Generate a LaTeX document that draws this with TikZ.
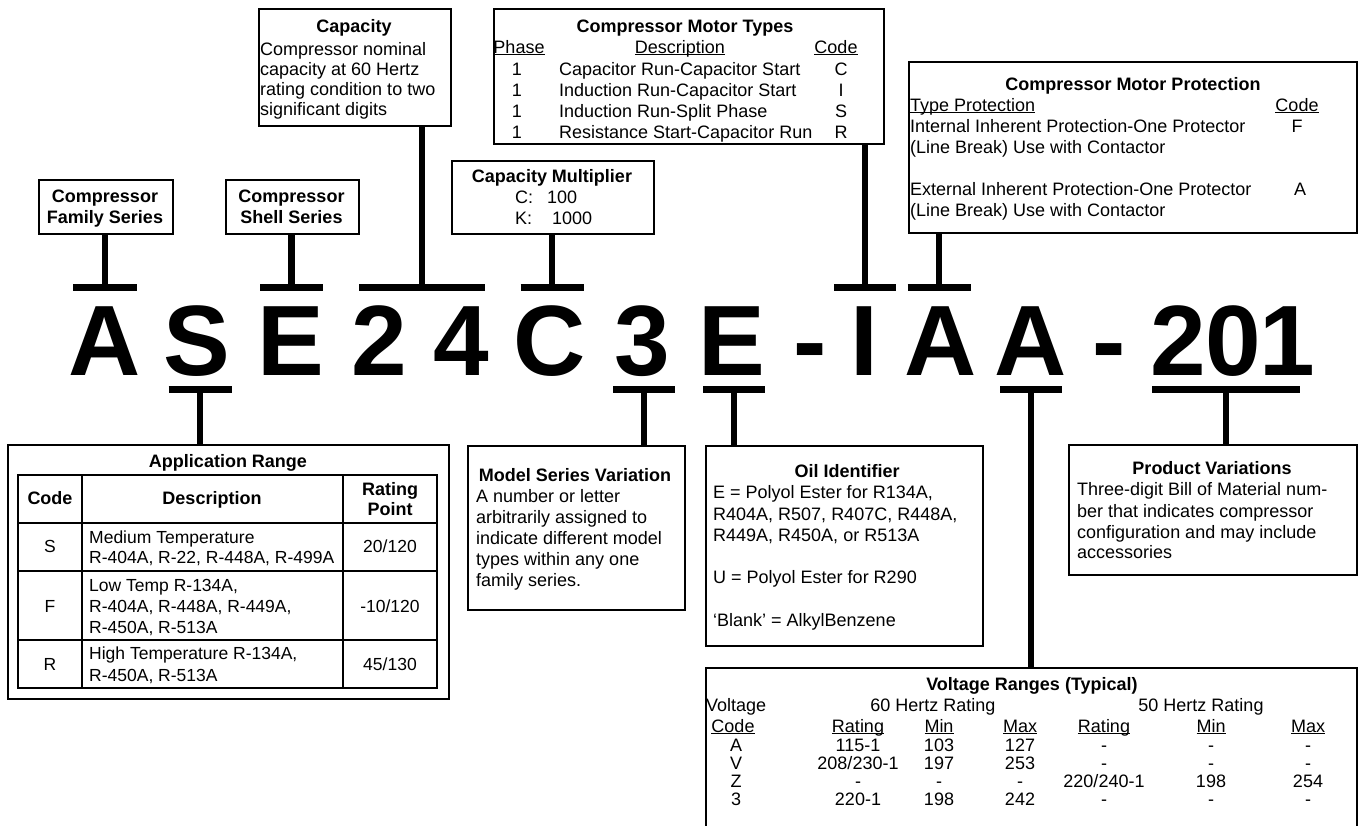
\documentclass[tikz,border=0pt]{standalone}
\usepackage{fontspec}
\setmainfont{Liberation Sans}
\newcommand\myul[1]{\setbox0\hbox{#1}\rlap{\rule[-2.4pt]{\wd0}{1.1pt}}\box0}
\begin{document}
\begin{tikzpicture}[x=1pt,y=-1pt,
  box/.style={draw, line width=2pt, inner sep=0pt, anchor=north west},
  txt/.style={inner sep=0pt, font=\fontsize{18}{21}\selectfont},
  stxt/.style={inner sep=0pt, font=\fontsize{17.5}{21}\selectfont},
  bt/.style={inner sep=0pt, font=\fontsize{18}{21}\selectfont\bfseries},
  big/.style={inner sep=0pt, anchor=base, font=\fontsize{100}{100}\selectfont\bfseries},
  stem/.style={line width=6.5pt},
  grid/.style={line width=2pt}]
\useasboundingbox (0,0) rectangle (1358,825);

% ---------- big code letters ----------
\node[big] (cA) at (105,375) {A};
\node[big] (cS) at (197,375) {S};
\node[big] (cE) at (291,375) {E};
\node[big] (c2) at (379,375) {2};
\node[big] (c4) at (461,375) {4};
\node[big] (cC) at (550,375) {C};
\node[big] (c3) at (642,375) {3};
\node[big] (cE2) at (732,375) {E};
\node[big] (ch1) at (810,375) {-};
\node[big] (cI) at (864,375) {I};
\node[big] (cA2) at (941,375) {A};
\node[big] (cA3) at (1031,375) {A};
\node[big] (ch2) at (1109,375) {-};
\node[big] (d2) at (1178,375) {2};
\node[big] (d0) at (1233,375) {0};
\node[big] (d1) at (1287,375) {1};

% ---------- boxes ----------
\node[box, minimum width=134, minimum height=54] (fam) at (38,179) {};
\node[box, minimum width=133, minimum height=54] (shell) at (225,179) {};
\node[box, minimum width=192, minimum height=117] (cap) at (258,8) {};
\node[box, minimum width=390, minimum height=135] (mt) at (493,8) {};
\node[box, minimum width=202, minimum height=73] (mult) at (451,160) {};
\node[box, minimum width=448, minimum height=171] (prot) at (908,61) {};
\node[box, minimum width=441, minimum height=254] (app) at (7,444) {};
\node[box, minimum width=217, minimum height=164] (msv) at (467,445) {};
\node[box, minimum width=277, minimum height=200] (oil) at (705,445) {};
\node[box, minimum width=288, minimum height=130] (pv) at (1068,444) {};
\node[box, minimum width=651, minimum height=175] (volt) at (705,667) {};

% ---------- bars and stems ----------
\coordinate (bFam) at (105,287.5);
\coordinate (bShell) at (291.5,287.5);
\coordinate (bCap) at (422,287.5);
\coordinate (bMult) at (552,287.5);
\coordinate (bMt) at (865,287.5);
\coordinate (bProt) at (939,287.5);
\coordinate (bApp) at (200,389.5);
\coordinate (bMsv) at (644,389.5);
\coordinate (bOil) at (734,389.5);
\coordinate (bVolt) at (1031,389.5);
\coordinate (bPv) at (1226,389.5);

\draw[stem] (bFam) -- (bFam |- fam.south);
\draw[stem] ([xshift=-32pt]bFam) -- ([xshift=32pt]bFam);
\draw[stem] (bShell) -- (bShell |- shell.south);
\draw[stem] ([xshift=-31.5pt]bShell) -- ([xshift=31.5pt]bShell);
\draw[stem] (bCap) -- (bCap |- cap.south);
\draw[stem] ([xshift=-63pt]bCap) -- ([xshift=63pt]bCap);
\draw[stem] (bMult) -- (bMult |- mult.south);
\draw[stem] ([xshift=-31.5pt]bMult) -- ([xshift=31.5pt]bMult);
\draw[stem] (bMt) -- (bMt |- mt.south);
\draw[stem] ([xshift=-31pt]bMt) -- ([xshift=31pt]bMt);
\draw[stem] (bProt) -- (bProt |- prot.south);
\draw[stem] ([xshift=-31.5pt]bProt) -- ([xshift=31.5pt]bProt);
\draw[stem] (bApp) -- (bApp |- app.north);
\draw[stem] ([xshift=-31.5pt]bApp) -- ([xshift=31.5pt]bApp);
\draw[stem] (bMsv) -- (bMsv |- msv.north);
\draw[stem] ([xshift=-31pt]bMsv) -- ([xshift=31pt]bMsv);
\draw[stem] (bOil) -- (bOil |- oil.north);
\draw[stem] ([xshift=-31pt]bOil) -- ([xshift=31pt]bOil);
\draw[stem] (bVolt) -- (bVolt |- volt.north);
\draw[stem] ([xshift=-31pt]bVolt) -- ([xshift=31pt]bVolt);
\draw[stem] (bPv) -- (bPv |- pv.north);
\draw[stem] ([xshift=-74pt]bPv) -- ([xshift=74pt]bPv);

% ---------- Family / Shell ----------
\node[bt, anchor=base] at (105,202) {Compressor};
\node[bt, anchor=base] at (105,223) {Family Series};
\node[bt, anchor=base] at (291.5,202) {Compressor};
\node[bt, anchor=base] at (291.5,223) {Shell Series};

% ---------- Capacity ----------
\node[bt, anchor=base] at (354,32.5) {Capacity};
\node[txt, anchor=base west] at (260,55) {Compressor nominal};
\node[txt, anchor=base west] at (260,75) {capacity at 60 Hertz};
\node[txt, anchor=base west] at (260,95) {rating condition to two};
\node[txt, anchor=base west] at (260,115) {significant digits};

% ---------- Motor types ----------
\node[bt, anchor=base] at (685,32) {Compressor Motor Types};
\node[txt, anchor=base] at (519,53) {\myul{Phase}};
\node[txt, anchor=base] at (680,53) {\myul{Description}};
\node[txt, anchor=base] at (836,53) {\myul{Code}};
\node[txt, anchor=base] at (517,75) {1};
\node[txt, anchor=base] at (517,96) {1};
\node[txt, anchor=base] at (517,117) {1};
\node[txt, anchor=base] at (517,138) {1};
\node[txt, anchor=base west] at (559,75) {Capacitor Run-Capacitor Start};
\node[txt, anchor=base west] at (559,96) {Induction Run-Capacitor Start};
\node[txt, anchor=base west] at (559,117) {Induction Run-Split Phase};
\node[txt, anchor=base west] at (559,138) {Resistance Start-Capacitor Run};
\node[txt, anchor=base] at (841,75) {C};
\node[txt, anchor=base] at (841,96) {I};
\node[txt, anchor=base] at (841,117) {S};
\node[txt, anchor=base] at (841,138) {R};

% ---------- Multiplier ----------
\node[bt, anchor=base] at (552,182) {Capacity Multiplier};
\node[txt, anchor=base west] at (515,203) {C:\hspace{14pt}100};
\node[txt, anchor=base west] at (515,224) {K:\hspace{20pt}1000};

% ---------- Protection ----------
\node[bt, anchor=base] at (1133,90) {Compressor Motor Protection};
\node[txt, anchor=base west] at (910,111) {\myul{Type Protection}};
\node[txt, anchor=base] at (1297,111) {\myul{Code}};
\node[txt, anchor=base west] at (910,132) {Internal Inherent Protection-One Protector};
\node[txt, anchor=base] at (1297,132) {F};
\node[txt, anchor=base west] at (910,153) {(Line Break) Use with Contactor};
\node[txt, anchor=base west] at (910,195) {External Inherent Protection-One Protector};
\node[txt, anchor=base] at (1300,195) {A};
\node[txt, anchor=base west] at (910,216) {(Line Break) Use with Contactor};

% ---------- Application range ----------
\node[bt, anchor=base] at (228,467) {Application Range};
\draw[grid] (18,475) rectangle (437,688);
\draw[grid] (82,475) -- (82,688);
\draw[grid] (343,475) -- (343,688);
\draw[grid] (18,523) -- (437,523);
\draw[grid] (18,571) -- (437,571);
\draw[grid] (18,640) -- (437,640);
\node[bt, anchor=base] at (50,504) {Code};
\node[bt, anchor=base] at (212,504) {Description};
\node[bt, anchor=base] at (390,495) {Rating};
\node[bt, anchor=base] at (390,515) {Point};
\node[stxt, anchor=base] at (50,552) {S};
\node[stxt, anchor=base west] at (89,543) {Medium Temperature};
\node[stxt, anchor=base west] at (89,563) {R-404A, R-22, R-448A, R-499A};
\node[stxt, anchor=base] at (390,552) {20/120};
\node[stxt, anchor=base] at (50,612) {F};
\node[stxt, anchor=base west] at (89,591) {Low Temp R-134A,};
\node[stxt, anchor=base west] at (89,612) {R-404A, R-448A, R-449A,};
\node[stxt, anchor=base west] at (89,633) {R-450A, R-513A};
\node[stxt, anchor=base] at (390,612) {-10/120};
\node[stxt, anchor=base] at (50,670) {R};
\node[stxt, anchor=base west] at (89,659) {High Temperature R-134A,};
\node[stxt, anchor=base west] at (89,681) {R-450A, R-513A};
\node[stxt, anchor=base] at (390,670) {45/130};

% ---------- Model series variation ----------
\node[bt, anchor=base] at (575,481) {Model Series Variation};
\node[txt, anchor=base west] at (476,502) {A number or letter};
\node[txt, anchor=base west] at (476,523) {arbitrarily assigned to};
\node[txt, anchor=base west] at (476,544) {indicate different model};
\node[txt, anchor=base west] at (476,565) {types within any one};
\node[txt, anchor=base west] at (476,586) {family series.};

% ---------- Oil identifier ----------
\node[bt, anchor=base] at (847,477) {Oil Identifier};
\node[txt, anchor=base west] at (713,498) {E = Polyol Ester for R134A,};
\node[txt, anchor=base west] at (713,520) {R404A, R507, R407C, R448A,};
\node[txt, anchor=base west] at (713,541) {R449A, R450A, or R513A};
\node[txt, anchor=base west] at (713,583) {U = Polyol Ester for R290};
\node[txt, anchor=base west] at (713,626) {`Blank' = AlkylBenzene};

% ---------- Product variations ----------
\node[bt, anchor=base] at (1212,474) {Product Variations};
\node[txt, anchor=base west] at (1077,495) {Three-digit Bill of Material num-};
\node[txt, anchor=base west] at (1077,517) {ber that indicates compressor};
\node[txt, anchor=base west] at (1077,538) {configuration and may include};
\node[txt, anchor=base west] at (1077,558) {accessories};

% ---------- Voltage ranges ----------
\node[bt, anchor=base] at (1032,690) {Voltage Ranges (Typical)};
\node[txt, anchor=base west] at (706,711) {Voltage};
\node[txt, anchor=base] at (933,711) {60 Hertz Rating};
\node[txt, anchor=base] at (1201,711) {50 Hertz Rating};
\node[txt, anchor=base] at (733,732) {\myul{Code}};
\node[txt, anchor=base] at (858,732) {\myul{Rating}};
\node[txt, anchor=base] at (939,732) {\myul{Min}};
\node[txt, anchor=base] at (1020,732) {\myul{Max}};
\node[txt, anchor=base] at (1104,732) {\myul{Rating}};
\node[txt, anchor=base] at (1211,732) {\myul{Min}};
\node[txt, anchor=base] at (1308,732) {\myul{Max}};
% row A
\node[txt, anchor=base] at (736,751) {A};
\node[txt, anchor=base] at (858,751) {115-1};
\node[txt, anchor=base] at (939,751) {103};
\node[txt, anchor=base] at (1020,751) {127};
\node[txt, anchor=base] at (1104,751) {-};
\node[txt, anchor=base] at (1211,751) {-};
\node[txt, anchor=base] at (1308,751) {-};
% row V
\node[txt, anchor=base] at (736,769) {V};
\node[txt, anchor=base] at (858,769) {208/230-1};
\node[txt, anchor=base] at (939,769) {197};
\node[txt, anchor=base] at (1020,769) {253};
\node[txt, anchor=base] at (1104,769) {-};
\node[txt, anchor=base] at (1211,769) {-};
\node[txt, anchor=base] at (1308,769) {-};
% row Z
\node[txt, anchor=base] at (736,787) {Z};
\node[txt, anchor=base] at (858,787) {-};
\node[txt, anchor=base] at (939,787) {-};
\node[txt, anchor=base] at (1020,787) {-};
\node[txt, anchor=base] at (1104,787) {220/240-1};
\node[txt, anchor=base] at (1211,787) {198};
\node[txt, anchor=base] at (1308,787) {254};
% row 3
\node[txt, anchor=base] at (736,805) {3};
\node[txt, anchor=base] at (858,805) {220-1};
\node[txt, anchor=base] at (939,805) {198};
\node[txt, anchor=base] at (1020,805) {242};
\node[txt, anchor=base] at (1104,805) {-};
\node[txt, anchor=base] at (1211,805) {-};
\node[txt, anchor=base] at (1308,805) {-};
\end{tikzpicture}
\end{document}
